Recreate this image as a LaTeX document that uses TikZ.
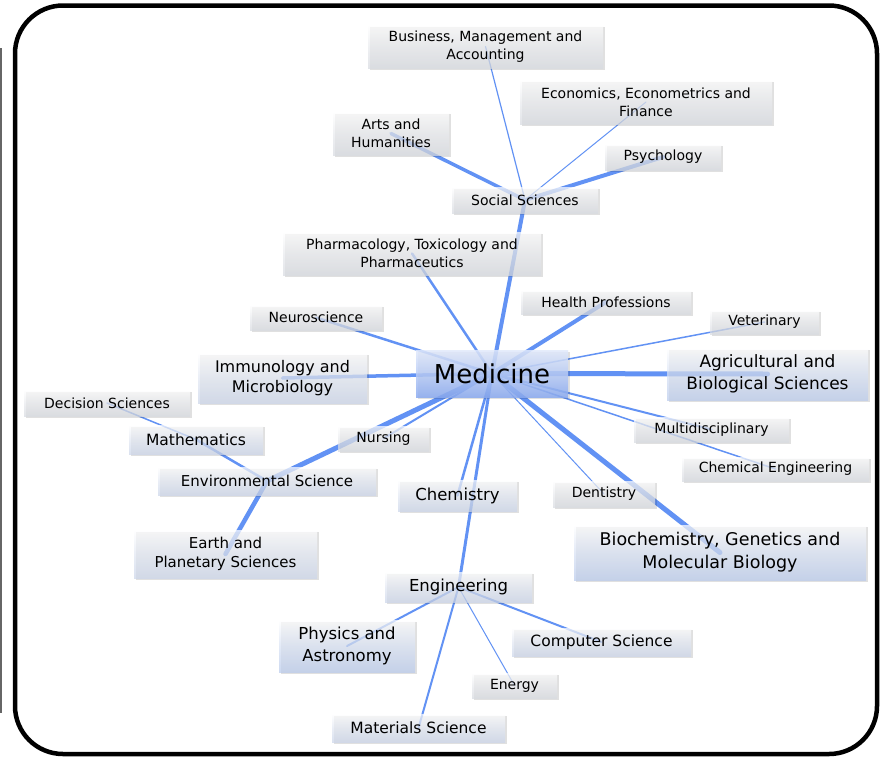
\documentclass[tikz,border=0pt]{standalone}
\usepackage{fontspec}
\setmainfont{DejaVu Sans}
\usetikzlibrary{shadows,backgrounds}
\definecolor{edgeblue}{RGB}{98,146,244}
\definecolor{grayb}{RGB}{216,219,225}
\definecolor{blueg}{RGB}{204,214,234}
\definecolor{blueb}{RGB}{186,203,236}
\definecolor{medb}{RGB}{138,170,240}
\newcommand\fs[1]{\fontsize{#1}{1.3\dimexpr#1pt\relax}\selectfont}
\tikzset{
  box/.style={shade, fill opacity=0.72, text opacity=1, inner sep=0pt, align=center,
    drop shadow={shadow xshift=1.5pt, shadow yshift=-1.5pt, opacity=0.12, fill=black}},
  gbox/.style={box, top color=white, bottom color=grayb, middle color=grayb!55!white, font=\fs{14}},
  bgbox/.style={box, top color=white, bottom color=blueg, middle color=blueg!55!white},
  bbox/.style={box, top color=white, bottom color=blueb, middle color=blueb!55!white},
  mbox/.style={box, top color=medb!25!white, bottom color=medb, middle color=medb!60!white, fill opacity=0.85},
  ed/.style={draw=edgeblue, line cap=round}
}
\begin{document}
\begin{tikzpicture}[x=1pt,y=-1pt]
\useasboundingbox (0,0) rectangle (885,758);
% nodes
\node[gbox, minimum width=235pt, minimum height=43pt] (bus) at (485.5,46.5) {Business, Management and\\Accounting};
\node[gbox, minimum width=252pt, minimum height=44pt] (eco) at (646,102) {Economics, Econometrics and\\Finance};
\node[gbox, minimum width=116pt, minimum height=43pt] (art) at (391,133.5) {Arts and\\Humanities};
\node[gbox, minimum width=116pt, minimum height=26pt] (psy) at (663,157) {Psychology};
\node[gbox, minimum width=146pt, minimum height=26pt] (soc) at (525,200) {Social Sciences};
\node[gbox, minimum width=258pt, minimum height=43pt] (pha) at (412,253.5) {Pharmacology, Toxicology and\\Pharmaceutics};
\node[gbox, minimum width=170pt, minimum height=24pt] (hea) at (606,302) {Health Professions};
\node[gbox, minimum width=132pt, minimum height=25pt] (neu) at (316,317.5) {Neuroscience};
\node[gbox, minimum width=109pt, minimum height=24pt] (vet) at (764.5,322) {Veterinary};
\node[mbox, minimum width=152pt, minimum height=47pt, font=\fs{26}] (med) at (492,373.5) {Medicine};
\node[bgbox, minimum width=169pt, minimum height=50pt, font=\fs{16}] (imm) at (282.5,378) {Immunology and\\Microbiology};
\node[bbox, minimum width=201pt, minimum height=52pt, font=\fs{17}] (agr) at (767.5,374) {Agricultural and\\Biological Sciences};
\node[gbox, minimum width=166pt, minimum height=26pt] (dec) at (107,403) {Decision Sciences};
\node[bgbox, minimum width=134pt, minimum height=29pt, font=\fs{15.5}] (mat) at (196,439.5) {Mathematics};
\node[gbox, minimum width=91pt, minimum height=25pt] (nur) at (383.5,438.5) {Nursing};
\node[gbox, minimum width=155pt, minimum height=25pt] (mul) at (711.5,429.5) {Multidisciplinary};
\node[gbox, minimum width=187pt, minimum height=24pt] (che) at (775.5,469) {Chemical Engineering};
\node[bgbox, minimum width=218pt, minimum height=28pt, font=\fs{15}] (env) at (267,481) {Environmental Science};
\node[bgbox, minimum width=119pt, minimum height=31pt, font=\fs{16.5}] (chm) at (457.5,495.5) {Chemistry};
\node[gbox, minimum width=102pt, minimum height=26pt] (den) at (604,494) {Dentistry};
\node[bgbox, minimum width=183pt, minimum height=48pt, font=\fs{15}] (ear) at (225.5,554) {Earth and\\Planetary Sciences};
\node[bbox, minimum width=292pt, minimum height=55pt, font=\fs{17.5}] (bio) at (720,552.5) {Biochemistry, Genetics and\\Molecular Biology};
\node[bgbox, minimum width=147pt, minimum height=30pt, font=\fs{16.5}] (eng) at (458.5,587) {Engineering};
\node[bbox, minimum width=136pt, minimum height=52pt, font=\fs{16.5}] (phy) at (347,646) {Physics and\\Astronomy};
\node[bgbox, minimum width=179pt, minimum height=28pt, font=\fs{15.5}] (com) at (601.5,642) {Computer Science};
\node[gbox, minimum width=85pt, minimum height=25pt] (ene) at (514.5,685.5) {Energy};
\node[bgbox, minimum width=173pt, minimum height=28pt, font=\fs{15.5}] (mats) at (418.5,728) {Materials Science};
% edges
\begin{pgfonlayer}{background}
\fill[white] (0,0) rectangle (885,758);
\draw[ed, line width=5pt] (med.center) -- (agr.center);
\draw[ed, line width=5pt] (med.center) -- (bio.center);
\draw[ed, line width=5pt] (med.center) -- (env.center);
\draw[ed, line width=4pt] (med.center) -- (soc.center);
\draw[ed, line width=4pt] (med.center) -- (hea.center);
\draw[ed, line width=3.5pt] (med.center) -- (imm.center);
\draw[ed, line width=2.5pt] (med.center) -- (neu.center);
\draw[ed, line width=2.5pt] (med.center) -- (pha.center);
\draw[ed, line width=1.5pt] (med.center) -- (vet.center);
\draw[ed, line width=2pt] (med.center) -- (nur.center);
\draw[ed, line width=2.5pt] (med.center) -- (chm.center);
\draw[ed, line width=3pt] (med.center) -- (eng.center);
\draw[ed, line width=1pt] (med.center) -- (den.center);
\draw[ed, line width=2pt] (med.center) -- (mul.center);
\draw[ed, line width=1.5pt] (med.center) -- (che.center);
\draw[ed, line width=3.5pt] (soc.center) -- (art.center);
\draw[ed, line width=4pt] (soc.center) -- (psy.center);
\draw[ed, line width=1.2pt] (soc.center) -- (bus.center);
\draw[ed, line width=1pt] (soc.center) -- (eco.center);
\draw[ed, line width=4.5pt] (env.center) -- (ear.center);
\draw[ed, line width=2.5pt] (env.center) -- (mat.center);
\draw[ed, line width=1.5pt] (mat.center) -- (dec.center);
\draw[ed, line width=2pt] (eng.center) -- (phy.center);
\draw[ed, line width=2pt] (eng.center) -- (com.center);
\draw[ed, line width=1pt] (eng.center) -- (ene.center);
\draw[ed, line width=2pt] (eng.center) -- (mats.center);
\end{pgfonlayer}
% frame
\draw[line width=4.5pt, rounded corners=48pt] (15,5.5) rectangle (877,754);
\draw[black!60, line width=2pt] (1,48) -- (1,713);
\end{tikzpicture}
\end{document}
